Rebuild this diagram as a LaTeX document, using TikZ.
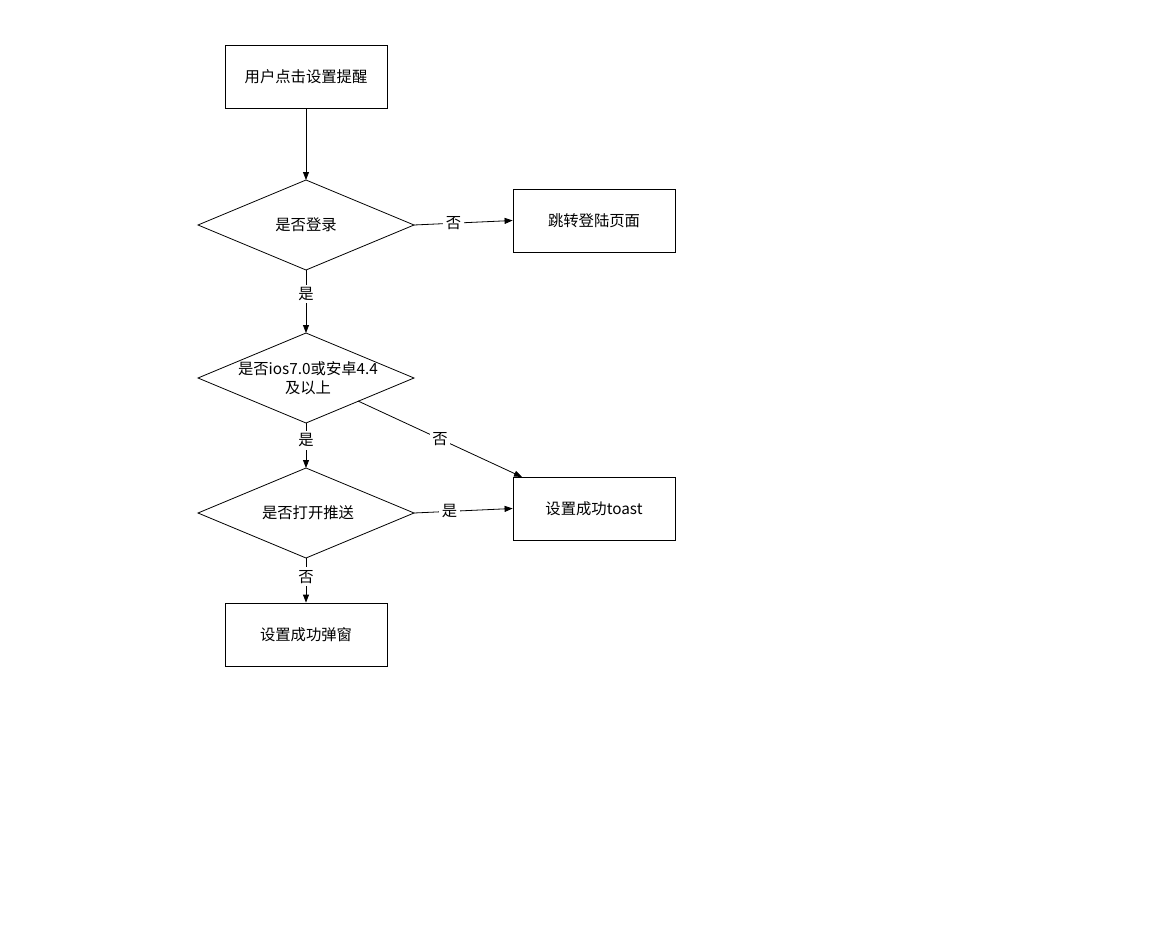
\documentclass[tikz,border=0pt]{standalone}
\usepackage{fontspec}
\setmainfont{Noto Sans CJK SC}
\usetikzlibrary{arrows.meta}
\begin{document}
\begin{tikzpicture}[x=0.75pt,y=-0.75pt,font=\fontsize{11.5pt}{14pt}\selectfont,
  box/.style={draw,line width=0.6pt,minimum width=121.5pt,minimum height=47.25pt,inner sep=0pt},
  lbl/.style={fill=white,inner sep=2pt},
  arr/.style={-{Triangle[length=6pt,width=4.5pt]},line width=0.6pt}]
\useasboundingbox (0,0) rectangle (1152,949);
\node[box] (b1) at (306,76.5) {用户点击设置提醒};
\node[box] (b2) at (594,220.5) {跳转登陆页面};
\node[box] (b3) at (594,508.5) {设置成功toast};
\node[box] (b4) at (306,634.5) {设置成功弹窗};
% diamond 1
\coordinate (d1t) at (306,180); \coordinate (d1b) at (306,270);
\coordinate (d1l) at (198,225); \coordinate (d1r) at (414,225);
\draw[line width=0.6pt] (d1t)--(d1r)--(d1b)--(d1l)--cycle;
\node (d1) at (306,225) {是否登录};
% diamond 2
\coordinate (d2t) at (306,333); \coordinate (d2b) at (306,423);
\coordinate (d2l) at (198,378); \coordinate (d2r) at (414,378);
\draw[line width=0.6pt] (d2t)--(d2r)--(d2b)--(d2l)--cycle;
\node[align=center,inner sep=0pt] (d2) at (308,378) {是否ios7.0或安卓4.4\\及以上};
\coordinate (d2e) at (358,401);
% diamond 3
\coordinate (d3t) at (306,468); \coordinate (d3b) at (306,558);
\coordinate (d3l) at (198,513); \coordinate (d3r) at (414,513);
\draw[line width=0.6pt] (d3t)--(d3r)--(d3b)--(d3l)--cycle;
\node (d3) at (308,513) {是否打开推送};
\coordinate (tIn) at (522,477);
% edges
\draw[arr] (b1) -- (d1t);
\draw[arr] (d1r) -- node[lbl,pos=0.4] {否} (b2.west);
\draw[arr] (d1b) -- node[lbl,pos=0.38] {是} (d2t);
\draw[arr] (d2e) -- node[lbl,pos=0.5] {否} (tIn);
\draw[arr] (d2b) -- node[lbl,pos=0.38] {是} (d3t);
\draw[arr] (d3r) -- node[lbl,pos=0.36] {是} (b3.west);
\draw[arr] (d3b) -- node[lbl,pos=0.42] {否} (b4.north);
\end{tikzpicture}
\end{document}
